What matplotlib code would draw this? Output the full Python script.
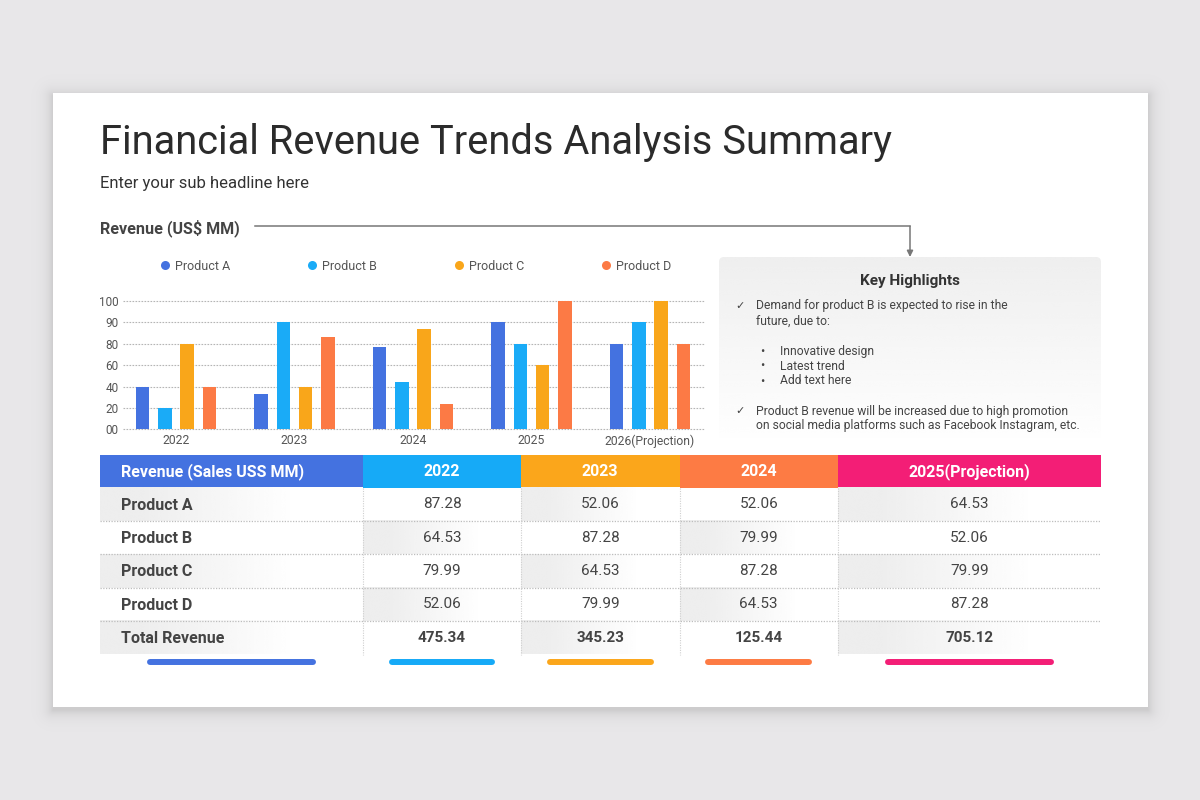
"""Financial revenue trends summary slide: bar chart, highlights box and table."""

import matplotlib
matplotlib.use("Agg")

import matplotlib.pyplot as plt
import numpy as np
from matplotlib.lines import Line2D
from matplotlib.patches import FancyBboxPatch, Rectangle

# ---- data -------------------------------------------------------------------
YEARS = ["2022", "2023", "2024", "2025", "2026(Projection)"]
PRODUCTS = ["Product A", "Product B", "Product C", "Product D"]
REV_A = [40, 33, 77, 90, 80]
REV_B = [20, 90, 44, 80, 90]
REV_C = [80, 40, 87, 60, 100]
REV_D = [40, 83, 24, 100, 80]
Y_TICKS = [0, 20, 40, 60, 80, 90, 100]
Y_TICK_LABELS = ["00", "20", "40", "60", "80", "90", "100"]

TABLE_COLS = ["Revenue (Sales USS MM)", "2022", "2023", "2024", "2025(Projection)"]
TABLE_ROWS = ["Product A", "Product B", "Product C", "Product D", "Total Revenue"]
TBL_2022 = ["87.28", "64.53", "79.99", "52.06", "475.34"]
TBL_2023 = ["52.06", "87.28", "64.53", "79.99", "345.23"]
TBL_2024 = ["52.06", "79.99", "87.28", "64.53", "125.44"]
TBL_2025 = ["64.53", "52.06", "79.99", "87.28", "705.12"]

HIGHLIGHT_1 = ["Demand for product B is expected to rise in the", "future, due to:"]
HIGHLIGHT_BULLETS = ["Innovative design", "Latest trend", "Add text here"]
HIGHLIGHT_2 = ["Product B revenue will be increased due to high promotion",
               "on social media platforms such as Facebook Instagram, etc."]

# ---- style ------------------------------------------------------------------
BAR_COLORS = ["#4472e0", "#1aabf7", "#f9a61a", "#fc7a45"]
HEAD_COLORS = ["#4472e0", "#16aaf7", "#fba61b", "#fd7b44", "#f31e76"]
BG = "#e9e8ea"
TXT = "#444444"
FONT = ["Roboto", "DejaVu Sans"]

plt.rcParams["font.family"] = FONT

fig = plt.figure(figsize=(12, 8), dpi=100)

# full-figure canvas in pixel coordinates (y downwards)
bg = fig.add_axes([0, 0, 1, 1], zorder=0)
bg.set_xlim(0, 1200)
bg.set_ylim(800, 0)
bg.axis("off")

# backdrop with soft card shadow
CARD = (53, 93, 1148, 707)
xx, yy = np.meshgrid(np.arange(1200) + 0.5, np.arange(800) + 0.5)
dx = np.maximum.reduce([CARD[0] - xx, np.zeros_like(xx), xx - CARD[2]])
dy = np.maximum.reduce([CARD[1] + 3 - yy, np.zeros_like(yy), yy - (CARD[3] + 3)])
shade = 0.12 * np.exp(-np.hypot(dx, dy) / 6.5)
base = np.array(matplotlib.colors.to_rgb(BG))
img = base[None, None, :] * (1 - shade[..., None])
bg.imshow(img, extent=(0, 1200, 800, 0), aspect="auto", interpolation="bilinear", zorder=0)
bg.add_patch(Rectangle((CARD[0], CARD[1]), CARD[2] - CARD[0], CARD[3] - CARD[1],
                       facecolor="white", edgecolor="none", zorder=1))

# headings
bg.text(100, 154.5, "Financial Revenue Trends Analysis Summary", fontsize=28.7,
        color="#2b2b2b", va="baseline", zorder=5)
bg.text(100, 188, "Enter your sub headline here", fontsize=12, color="#333333",
        va="baseline", zorder=5)
bg.text(100, 233, "Revenue (US$ MM)", fontsize=11.6, fontweight="bold", color=TXT,
        va="baseline", zorder=5)
bg.plot([255, 910], [226.3, 226.3], color="#777777", lw=1.1, zorder=5)
bg.annotate("", xy=(910, 257), xytext=(910, 226.3), zorder=5,
            arrowprops=dict(arrowstyle="-|>", color="#777777", lw=1.1,
                            mutation_scale=9, shrinkA=0, shrinkB=0))

# key highlights box
hx0, hy0, hx1, hy1 = 719, 257, 1101, 447
box = FancyBboxPatch((hx0, hy0), hx1 - hx0, hy1 - hy0,
                     boxstyle="round,pad=0,rounding_size=5",
                     facecolor="none", edgecolor="none", zorder=2)
bg.add_patch(box)
grad = np.linspace(0.935, 1.0, 100)[:, None] * np.ones((1, 2))
gimg = bg.imshow(grad, cmap="gray", vmin=0, vmax=1, extent=(hx0, hx1, hy1, hy0),
                 aspect="auto", interpolation="bicubic", zorder=2)
gimg.set_clip_path(box)
bg.text((hx0 + hx1) / 2, 281, "Key Highlights", fontsize=11, fontweight="bold",
        color="#333333", ha="center", va="center", zorder=5)

line_h = 15
y = 306
bg.text(740, y, "\u2713", fontsize=8, color=TXT, ha="center", va="center", zorder=5)
for ln in HIGHLIGHT_1:
    bg.text(756, y, ln, fontsize=8.75, color=TXT, va="center", zorder=5)
    y += line_h
y += 15
for ln in HIGHLIGHT_BULLETS:
    bg.text(762, y, "\u2022", fontsize=9, color=TXT, ha="center", va="center", zorder=5)
    bg.text(780, y, ln, fontsize=8.75, color=TXT, va="center", zorder=5)
    y += line_h
y += 15
bg.text(740, y, "\u2713", fontsize=8, color=TXT, ha="center", va="center", zorder=5)
for ln in HIGHLIGHT_2:
    bg.text(756, y, ln, fontsize=8.75, color=TXT, va="center", zorder=5)
    y += line_h

# ---- table ------------------------------------------------------------------
col_edges = [100, 363, 521, 679.5, 838, 1101]
row_edges = [455.3, 487.5, 521, 554.3, 587.7, 621.3, 654.5]
cell_cols = [TBL_2022, TBL_2023, TBL_2024, TBL_2025]

ramp = np.clip((np.linspace(0, 1, 200) - 0.15) / 0.6, 0, 1)
hgrad = (0.93 + 0.07 * ramp)[None, :]

for c, head in enumerate(TABLE_COLS):
    x0, x1 = col_edges[c], col_edges[c + 1]
    bg.add_patch(Rectangle((x0, row_edges[0]), x1 - x0, row_edges[1] - row_edges[0],
                           facecolor=HEAD_COLORS[c], edgecolor="none", zorder=2))
    yc = (row_edges[0] + row_edges[1]) / 2
    if c == 0:
        bg.text(121, yc, head, fontsize=11.5, fontweight="bold", color="white",
                va="center", zorder=5)
    else:
        bg.text((x0 + x1) / 2, yc, head, fontsize=11.5, fontweight="bold",
                color="white", ha="center", va="center", zorder=5)

for r, label in enumerate(TABLE_ROWS):
    ya, yb = row_edges[r + 1], row_edges[r + 2]
    yc = (ya + yb) / 2
    is_total = r == len(TABLE_ROWS) - 1
    for c in range(len(TABLE_COLS)):
        x0, x1 = col_edges[c], col_edges[c + 1]
        if (r + c) % 2 == 0:
            bg.imshow(hgrad, cmap="gray", vmin=0, vmax=1, extent=(x0, x1, yb, ya),
                      aspect="auto", interpolation="bicubic", zorder=2)
    bg.text(121, yc + 1, label, fontsize=11.5, fontweight="bold", color=TXT,
            va="center", zorder=5)
    for c, vals in enumerate(cell_cols, start=1):
        x0, x1 = col_edges[c], col_edges[c + 1]
        bg.text((x0 + x1) / 2, yc, vals[r], fontsize=11, color=TXT,
                fontweight="bold" if is_total else "normal",
                ha="center", va="center", zorder=5)

for ye in row_edges[2:-1]:
    bg.plot([col_edges[0], col_edges[-1]], [ye, ye], color="#bdbdbd", lw=0.9,
            ls=(0, (1, 1.2)), zorder=4)
for xe in col_edges[1:-1]:
    bg.plot([xe, xe], [row_edges[1], row_edges[-1]], color="#cfcfcf", lw=0.8,
            ls=(0, (1, 1.2)), zorder=4)

# coloured pills under each column
for c in range(len(TABLE_COLS)):
    x0, x1 = col_edges[c], col_edges[c + 1]
    w = (x1 - x0) * (0.645 if c in (0, 4) else 0.675)
    xc = (x0 + x1) / 2
    bg.plot([xc - w / 2 + 3, xc + w / 2 - 3], [662.3, 662.3], color=HEAD_COLORS[c],
            lw=4.3, solid_capstyle="round", zorder=5)

bg.set_xlim(0, 1200)
bg.set_ylim(800, 0)

# ---- bar chart --------------------------------------------------------------
ax = fig.add_axes([123 / 1200, 1 - 429.3 / 800, (704 - 123) / 1200, 128.3 / 800], zorder=3)
ax.patch.set_alpha(0)
tick_pos = np.arange(len(Y_TICKS), dtype=float)


def fwd(v):
    return np.interp(v, Y_TICKS, tick_pos)


def inv(p):
    return np.interp(p, tick_pos, Y_TICKS)


# the axis labels sit at even spacing although their values do not
ax.set_yscale("function", functions=(fwd, inv))

x = np.arange(len(YEARS))
pitch = 0.188
width = 0.114
series = [REV_A, REV_B, REV_C, REV_D]
for i, (vals, color) in enumerate(zip(series, BAR_COLORS)):
    ax.bar(x + (i - 1.5) * pitch, vals, width=width, color=color, zorder=3)

for t in Y_TICKS:
    ax.axhline(t, color="#b5b5b5", lw=0.8, ls=(0, (1.5, 1.2)), zorder=1, clip_on=False)

ax.set_xlim(-0.447, 4.456)
ax.set_ylim(0, 100)
ax.set_yticks(Y_TICKS)
ax.set_yticklabels(Y_TICK_LABELS)
ax.set_xticks(x)
ax.set_xticklabels(YEARS)
ax.tick_params(axis="both", length=0, labelsize=8.5, labelcolor="#555555")
ax.tick_params(axis="x", labelsize=8.7, pad=3.5)
ax.tick_params(axis="y", pad=3)
ax.minorticks_off()
for sp in ax.spines.values():
    sp.set_visible(False)

handles = [Line2D([], [], ls="none", marker="o", markersize=6.5, color=c,
                  markeredgewidth=0) for c in BAR_COLORS]
ax.legend(handles, PRODUCTS, ncol=4, mode="expand", loc="center",
          bbox_to_anchor=(160 / 1200, 1 - 274 / 800, 511 / 1200, 16 / 800),
          bbox_transform=fig.transFigure, frameon=False, fontsize=9,
          handlelength=0.8, handletextpad=0.4, borderpad=0, borderaxespad=0,
          labelcolor="#555555")

fig.savefig("out.png", dpi=100)
